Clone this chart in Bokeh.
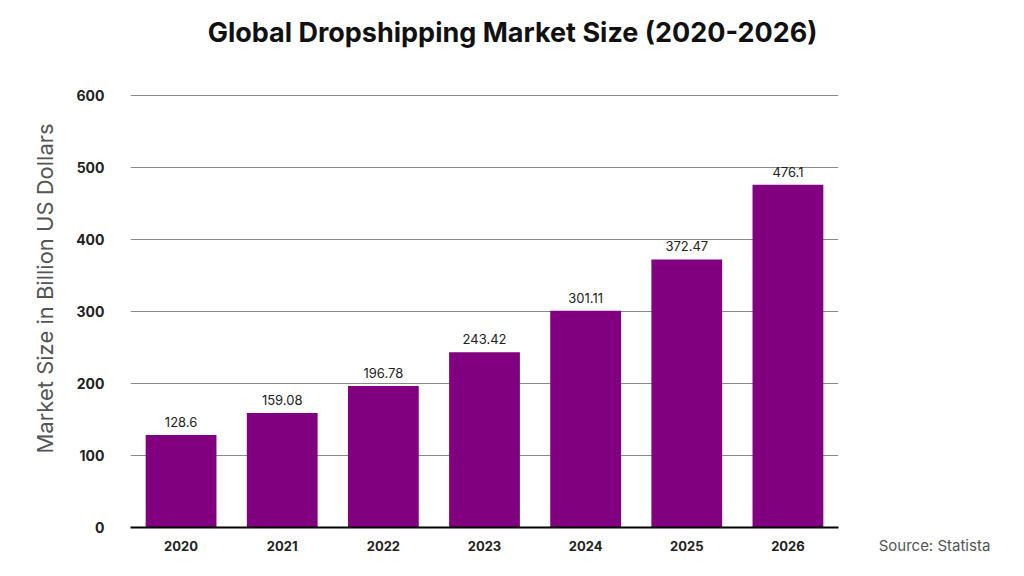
import math
from bokeh.plotting import figure
from bokeh.models import ColumnDataSource, LabelSet, Label, Title, Range1d
from bokeh.layouts import column, row
from bokeh.core.properties import value
from bokeh.embed import file_html
from bokeh.resources import INLINE

years = ["2020", "2021", "2022", "2023", "2024", "2025", "2026"]
market_size = [128.6, 159.08, 196.78, 243.42, 301.11, 372.47, 476.1]
value_labels = ["128.6", "159.08", "196.78", "243.42", "301.11", "372.47", "476.1"]
y_ticks = [0, 100, 200, 300, 400, 500, 600]
source_note = ["Source: Statista"]

FONT = "Inter"
TOTAL_W, TOTAL_H = 1008, 560
TITLE_H = 60
MAIN_W = 848

# title strip
t = figure(width=TOTAL_W, height=TITLE_H, x_range=Range1d(0, TOTAL_W), y_range=Range1d(0, TITLE_H),
           output_backend="svg", toolbar_location=None,
           x_axis_location=None, y_axis_location=None,
           min_border=0, min_border_left=0, min_border_right=0,
           min_border_top=0, min_border_bottom=0)
t.grid.visible = False
t.outline_line_color = None
t.border_fill_color = "white"
t.add_layout(Label(x=512, y=TITLE_H - 32, text="Global Dropshipping Market Size (2020-2026)",
                   text_align="center", text_baseline="middle",
                   text_font=FONT, text_font_size="27px", text_font_style="bold",
                   text_color="#111111"))

# main chart
src = ColumnDataSource(dict(x=years, y=market_size, lab=value_labels))
p = figure(x_range=years, y_range=(0, 610), width=MAIN_W, height=TOTAL_H - TITLE_H,
           output_backend="svg", toolbar_location=None,
           min_border_left=130, min_border_right=MAIN_W - 838,
           min_border_top=88 - TITLE_H, min_border_bottom=33)
p.x_range.range_padding = 0.0
p.outline_line_color = None
p.background_fill_color = "white"
p.border_fill_color = "white"

p.vbar(x="x", top="y", width=0.7, source=src, fill_color="#800080", line_color=None)

p.add_layout(LabelSet(x="x", y="y", text="lab", source=src, y_offset=8,
                      text_align="center", text_baseline="bottom",
                      text_font=value(FONT), text_font_size="13px", text_color="#222222"))

p.xgrid.grid_line_color = None
p.ygrid.grid_line_color = "#8a8a8a"
p.ygrid.grid_line_width = 1
p.yaxis.ticker = y_ticks

p.yaxis.axis_line_color = None
p.yaxis.major_tick_line_color = None
p.yaxis.minor_tick_line_color = None
p.yaxis.major_label_standoff = 20
p.yaxis.major_label_text_font = FONT
p.yaxis.major_label_text_font_size = "14px"
p.yaxis.major_label_text_font_style = "bold"
p.yaxis.major_label_text_color = "#222222"

p.xaxis.axis_line_color = "black"
p.xaxis.axis_line_width = 2
p.xaxis.major_tick_line_color = None
p.xaxis.minor_tick_line_color = None
p.xaxis.major_label_standoff = 7
p.xaxis.major_label_text_font = FONT
p.xaxis.major_label_text_font_size = "13px"
p.xaxis.major_label_text_font_style = "bold"
p.xaxis.major_label_text_color = "#222222"

p.add_layout(Title(text="Market Size in Billion US Dollars",
                   align="left", offset=74, standoff=31,
                   text_font=FONT, text_font_size="22px", text_font_style="normal",
                   text_color="#555555"), "left")

# source note strip on the right (a bare categorical axis carrying the note)
s_w = TOTAL_W - MAIN_W
s = figure(width=s_w, height=TOTAL_H - TITLE_H, x_range=source_note, y_range=(0, 1),
           output_backend="svg", toolbar_location=None, y_axis_location=None,
           min_border_left=12, min_border_right=0,
           min_border_top=88 - TITLE_H, min_border_bottom=33)
s.grid.visible = False
s.outline_line_color = None
s.border_fill_color = "white"
s.xaxis.axis_line_color = None
s.xaxis.major_tick_line_color = None
s.xaxis.minor_tick_line_color = None
s.xaxis.major_label_standoff = 2
s.xaxis.major_label_text_font = FONT
s.xaxis.major_label_text_font_size = "15px"
s.xaxis.major_label_text_color = "#555555"

layout = column(t, row(p, s, spacing=0), spacing=0)
open("out.html", "w").write(file_html(layout, INLINE))
